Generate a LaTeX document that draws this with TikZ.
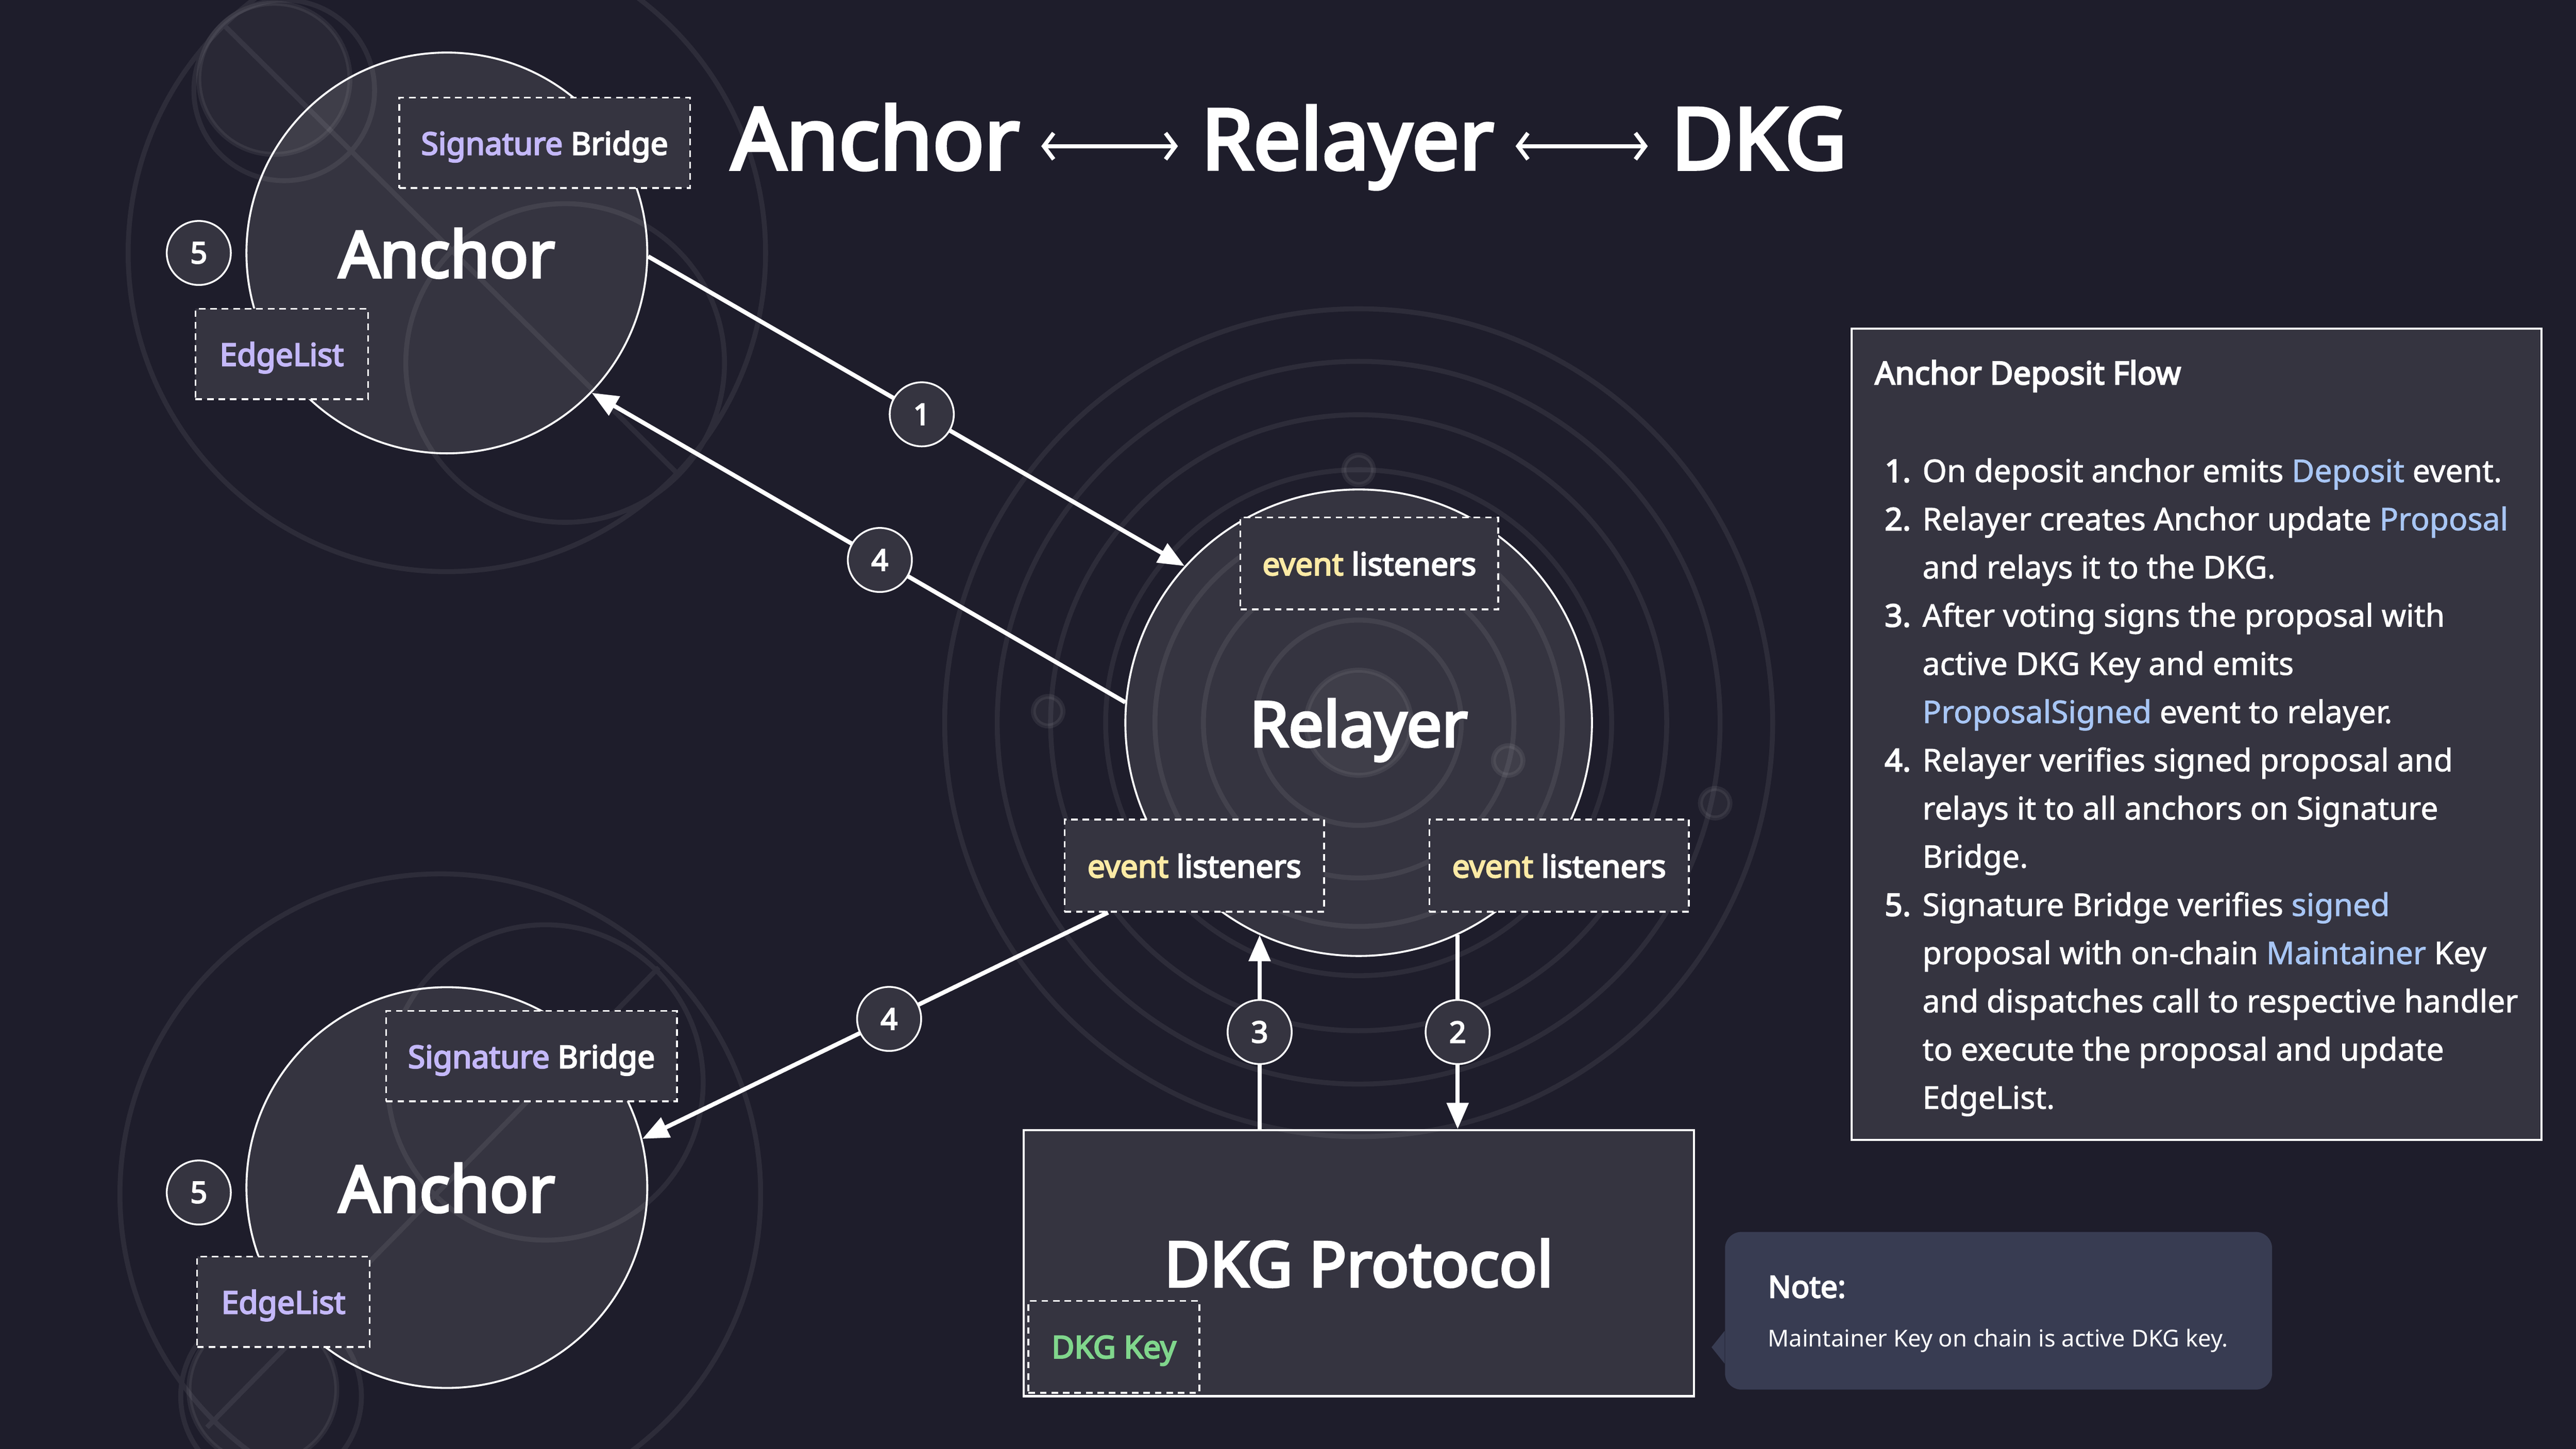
\documentclass[tikz,border=0pt]{standalone}
\usepackage{fontspec}
\setmainfont{Noto Sans}[BoldFont={Noto Sans}, BoldFeatures={FakeBold=4}]
\newfontfamily\flowfont[FakeBold=1.5]{Noto Sans}
\newfontfamily\flowbold[FakeBold=3.5]{Noto Sans}
\usetikzlibrary{arrows.meta}
\definecolor{night}{RGB}{30,29,43}
\definecolor{slate}{RGB}{53,52,64}
\definecolor{noteblue}{RGB}{56,60,82}
\definecolor{lilac}{RGB}{196,184,250}
\definecolor{butter}{RGB}{252,234,165}
\definecolor{mint}{RGB}{128,214,140}
\definecolor{sky}{RGB}{168,198,245}
\newcommand{\fsz}[2]{\fontsize{#1pt}{#2pt}\selectfont}
\newcommand{\hl}[1]{\textcolor{sky}{#1}}
\newcommand{\stepno}[1]{\hbox to 29pt{\hspace{6pt}{\flowbold#1}\hfil}}
\newcommand{\stepin}{\hspace*{29pt}}

\tikzset{
	hub/.style={circle, draw=white, line width=1.2pt, fill=slate, text=white, inner sep=0pt, minimum size=244pt, font=\bfseries\fsz{39}{42}, text depth=0pt},
	tagbox/.style={draw=white, line width=1.1pt, dash pattern=on 4pt off 3pt, fill=slate, text=white, inner sep=0pt, minimum height=55pt, text depth=0pt, font=\bfseries\fsz{19}{22}},
	num/.style={circle, draw=white, line width=1.1pt, fill=slate, text=white, inner sep=0pt, minimum size=39pt, font=\bfseries\fsz{18}{20}},
	conn/.style={draw=white, line width=2.6pt, -{Triangle[length=16pt,width=13pt]}},
	ring/.style={draw=white, draw opacity=.07, line width=3pt},
	dot/.style={ring, fill=white, fill opacity=.05},
	head/.style={text=white, inner sep=0pt, anchor=base west, font=\bfseries\fsz{52}{56}},
	link/.style={draw=white, line width=2.5pt, {Straight Barb[length=6pt,width=16pt]}-{Straight Barb[length=6pt,width=16pt]}, shorten <=13pt, shorten >=14pt},
	plain/.style={text=white, inner sep=0pt, anchor=base west}
}

\begin{document}
\begin{tikzpicture}[x=1pt,y=-1pt]
	\useasboundingbox (0,0) rectangle (1568,882);
	\fill[night] (0,0) rectangle (1568,882);
	% main shapes
	\node[hub] (anchorA) at (272,154) {Anchor};
	\node[hub] (anchorB) at (272,723) {Anchor};
	\node[hub, minimum size=284pt, font=\bfseries\fsz{38}{42}] (relayer) at (827,440) {Relayer};
	\node[draw=white, line width=1.3pt, fill=slate, text=white, minimum width=408pt, minimum height=162pt, font=\bfseries\fsz{38}{42}] (dkg) at (827,769) {DKG Protocol};
	% faint rings behind everything
	\draw[ring] (272,154) circle (194pt) (344,221) circle (97pt) (173,55) circle (55pt) (137,16) -- (413,289);
	\draw[dot] (167,48) circle (46pt);
	\draw[ring] (268,727) circle (195pt) (332,659) circle (96pt) (165,850) circle (55pt) (401,589) -- (126,869);
	\draw[dot] (160,846) circle (45pt);
	\draw[dot] (827,440) circle (32pt);
	\foreach \r in {62.5pt,94.5pt,124pt,154pt,187.5pt,220pt,252pt}
		\draw[ring] (827,440) circle (\r);
	\foreach \p in {(827,286),(638,433),(918,463),(1044,489)}
		\draw[dot] \p circle (9pt);
	% dashed tags
	\node[tagbox, minimum width=177pt] (sigA) at (331.5,87) {\textcolor{lilac}{Signature} Bridge};
	\node[tagbox, minimum width=105pt] (edgeA) at (171.5,215.5) {\textcolor{lilac}{EdgeList}};
	\node[tagbox, minimum width=177pt] (sigB) at (323.5,643) {\textcolor{lilac}{Signature} Bridge};
	\node[tagbox, minimum width=105pt] (edgeB) at (172.5,792.5) {\textcolor{lilac}{EdgeList}};
	\node[tagbox, minimum width=157pt, minimum height=56pt] (evTop) at (833.5,343) {\textcolor{butter}{event} listeners};
	\node[tagbox, minimum width=158pt, minimum height=56pt] (evLeft) at (727,527) {\textcolor{butter}{event} listeners};
	\node[tagbox, minimum width=158pt, minimum height=56pt] (evRight) at (949,527) {\textcolor{butter}{event} listeners};
	\node[tagbox, minimum width=104pt, minimum height=56pt] (dkgKey) at (678,820) {\textcolor{mint}{DKG Key}};
	\node[num] (fiveA) at (121,154) {5};
	\node[num] (fiveB) at (121,726) {5};
	% flow arrows
	\draw[conn] (anchorA.-1) -- node[num, pos=.51] (one) {1} (relayer.138);
	\draw[conn] (relayer.175) -- node[num, pos=.46] (fourA) {4} (anchorA.-44);
	\draw[conn] ([xshift=27pt]evLeft.south west) -- node[num, pos=.47] (fourB) {4} (anchorB.14);
	\draw[conn] (dkg.north -| relayer.-115) -- node[num] (three) {3} (relayer.-115);
	\draw[conn] (relayer.-65) -- node[num] (two) {2} (dkg.north -| relayer.-65);
	% heading
	\node[head] (hAnchor) at (445,103) {Anchor};
	\node[head, font=\bfseries\fsz{51}{56}] (hRelayer) at (731,103) {Relayer};
	\node[head] (hDKG) at (1017,103) {DKG};
	\draw[link] ([yshift=14pt]hAnchor.base east) -- ([yshift=14pt]hRelayer.base west);
	\draw[link] ([yshift=14pt]hRelayer.base east) -- ([yshift=14pt]hDKG.base west);
	% steps panel
	\node[draw=white, line width=1.3pt, fill=slate, minimum width=420pt, minimum height=494pt] (flow) at (1337,447) {};
	\node[plain, font=\bfseries\fsz{19.3}{22}] (flowTitle) at (1141,234) {Anchor Deposit Flow};
	\node[plain, align=left, font=\flowfont\fsz{19}{29.35}] (flowSteps) at (1141,675) {%
		\stepno{1.}On deposit anchor emits \hl{Deposit} event.\\
		\stepno{2.}Relayer creates Anchor update \hl{Proposal}\\
		\stepin and relays it to the DKG.\\
		\stepno{3.}After voting signs the proposal with\\
		\stepin active DKG Key and emits\\
		\stepin\hl{ProposalSigned} event to relayer.\\
		\stepno{4.}Relayer verifies signed proposal and\\
		\stepin relays it to all anchors on Signature\\
		\stepin Bridge.\\
		\stepno{5.}Signature Bridge verifies \hl{signed}\\
		\stepin proposal with on-chain \hl{Maintainer} Key\\
		\stepin and dispatches call to respective handler\\
		\stepin to execute the proposal and update\\
		\stepin EdgeList.};
	% note
	\node[fill=noteblue, rounded corners=10pt, minimum width=333pt, minimum height=96pt] (note) at (1216.5,798) {};
	\fill[noteblue] ([yshift=36pt]note.south west) -- ++(-8,10) -- ++(8,10) -- cycle;
	\node[plain, font=\bfseries\fsz{18.5}{22}] (noteHead) at (1076,790) {Note:};
	\node[plain, font=\fsz{14.2}{18}] (noteText) at (1076,820) {Maintainer Key on chain is active DKG key.};
\end{tikzpicture}
\end{document}
